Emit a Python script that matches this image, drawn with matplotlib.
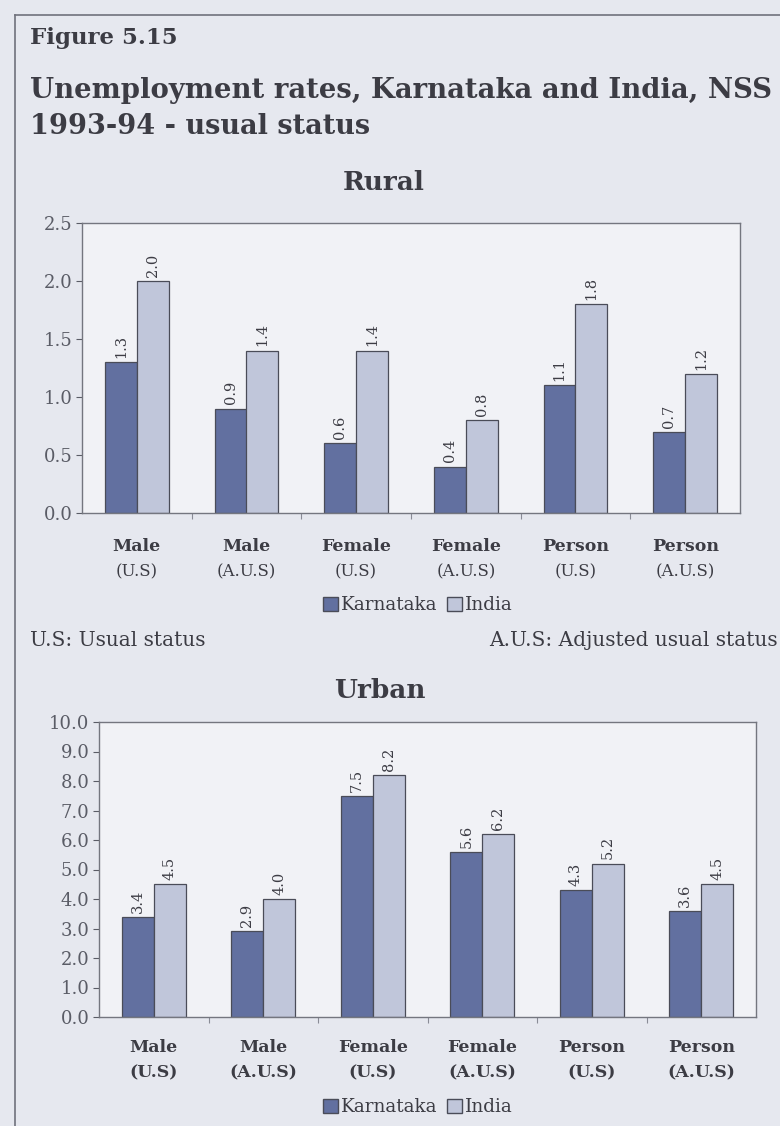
import matplotlib
matplotlib.use("Agg")
import matplotlib.pyplot as plt
from matplotlib.patches import Patch
from matplotlib.lines import Line2D

# Data
categories = ["Male", "Male", "Female", "Female", "Person", "Person"]
statuses = ["(U.S)", "(A.U.S)", "(U.S)", "(A.U.S)", "(U.S)", "(A.U.S)"]
rural_karnataka = [1.3, 0.9, 0.6, 0.4, 1.1, 0.7]
rural_india = [2.0, 1.4, 1.4, 0.8, 1.8, 1.2]
urban_karnataka = [3.4, 2.9, 7.5, 5.6, 4.3, 3.6]
urban_india = [4.5, 4.0, 8.2, 6.2, 5.2, 4.5]
rural_ticks = [0.0, 0.5, 1.0, 1.5, 2.0, 2.5]
urban_ticks = [0.0, 1.0, 2.0, 3.0, 4.0, 5.0, 6.0, 7.0, 8.0, 9.0, 10.0]

W, H = 780, 1126
PAGE = "#e6e8ef"
PLOT_BG = "#f1f2f6"
K_COLOR = "#6270a0"
I_COLOR = "#c0c6da"
EDGE = "#4a4c58"
TEXT = "#3c3c44"
SERIF = ["DejaVu Serif"]

plt.rcParams["font.family"] = SERIF

fig = plt.figure(figsize=(W / 100, H / 100), dpi=100)
fig.patch.set_facecolor(PAGE)


def px_axes(left, top, right, bottom):
    return fig.add_axes([left / W, 1 - bottom / H, (right - left) / W, (bottom - top) / H])


def fy(y):
    return 1 - y / H


def fx(x):
    return x / W


# page frame
fig.add_artist(Line2D([fx(15), fx(780)], [fy(15), fy(15)], color="#70727c", lw=1.2))
fig.add_artist(Line2D([fx(15), fx(15)], [fy(15), fy(1126)], color="#70727c", lw=1.2))

fig.text(fx(30), fy(38), "Figure 5.15", fontsize=16.5, fontweight="bold",
         color=TEXT, va="center", ha="left")
fig.text(fx(30), fy(91), "Unemployment rates, Karnataka and India, NSS",
         fontsize=19.8, fontweight="bold", color=TEXT, va="center", ha="left")
fig.text(fx(30), fy(126), "1993-94 - usual status",
         fontsize=19.5, fontweight="bold", color=TEXT, va="center", ha="left")


def draw_panel(ax, kvals, ivals, ticks, ymax, fmt):
    ax.set_facecolor(PLOT_BG)
    x = list(range(len(categories)))
    w = 0.29
    kx = [i - w / 2 for i in x]
    ix = [i + w / 2 for i in x]
    ax.bar(kx, kvals, width=w, color=K_COLOR, edgecolor=EDGE, linewidth=0.9, zorder=2)
    ax.bar(ix, ivals, width=w, color=I_COLOR, edgecolor=EDGE, linewidth=0.9, zorder=2)
    for xs, vals in ((kx, kvals), (ix, ivals)):
        for xi, v in zip(xs, vals):
            ax.annotate(f"{v:.1f}", (xi, v), xytext=(0, 3), textcoords="offset points",
                        rotation=90, ha="center", va="bottom", fontsize=10.5,
                        color=TEXT)
    ax.set_xlim(-0.5, len(categories) - 0.5)
    ax.set_ylim(0, ymax)
    ax.set_yticks(ticks)
    ax.set_yticklabels([fmt.format(t) for t in ticks])
    ax.set_xticks([i + 0.5 for i in range(len(categories) - 1)])
    ax.set_xticklabels([])
    ax.tick_params(axis="y", labelsize=13, colors="#5a5c66", length=4, width=0.8,
                   direction="out", pad=3)
    ax.tick_params(axis="x", length=4, width=0.8, direction="out", colors="#8a8c96")
    for s in ax.spines.values():
        s.set_color("#74767f")
        s.set_linewidth(1.0)


leg_handles = [Patch(facecolor=K_COLOR, edgecolor=EDGE, label="Karnataka"),
               Patch(facecolor=I_COLOR, edgecolor=EDGE, label="India")]

# Rural panel
fig.text(fx(384), fy(183), "Rural", fontsize=19, fontweight="bold", color=TEXT,
         ha="center", va="center")
ax1 = px_axes(82, 223, 740, 513)
draw_panel(ax1, rural_karnataka, rural_india, rural_ticks, 2.5, "{:.1f}")
for i, (c, s) in enumerate(zip(categories, statuses)):
    xf = (82 + (i + 0.5) * (740 - 82) / 6) / W
    fig.text(xf, fy(546), c, fontsize=12.5, fontweight="bold", color=TEXT,
             ha="center", va="center")
    fig.text(xf, fy(572), s, fontsize=12, color=TEXT, ha="center", va="center")

fig.legend(handles=leg_handles, loc="center", bbox_to_anchor=(fx(418), fy(605)),
           ncol=2, frameon=False, fontsize=13.2, handlelength=0.8, handleheight=0.8,
           handletextpad=0.2, columnspacing=0.5, labelcolor=TEXT)

fig.text(fx(30), fy(641), "U.S: Usual status", fontsize=14.5, color=TEXT,
         ha="left", va="center")
fig.text(fx(778), fy(641), "A.U.S: Adjusted usual status", fontsize=14.5, color=TEXT,
         ha="right", va="center")

# Urban panel
fig.text(fx(380), fy(690), "Urban", fontsize=19, fontweight="bold", color=TEXT,
         ha="center", va="center")
ax2 = px_axes(99, 722, 756, 1017)
draw_panel(ax2, urban_karnataka, urban_india, urban_ticks, 10.0, "{:.1f}")
for i, (c, s) in enumerate(zip(categories, statuses)):
    xf = (99 + (i + 0.5) * (756 - 99) / 6) / W
    fig.text(xf, fy(1047), c, fontsize=12.5, fontweight="bold", color=TEXT,
             ha="center", va="center")
    fig.text(xf, fy(1073), s, fontsize=12.5, fontweight="bold", color=TEXT,
             ha="center", va="center")

fig.legend(handles=leg_handles, loc="center", bbox_to_anchor=(fx(418), fy(1107)),
           ncol=2, frameon=False, fontsize=13.2, handlelength=0.8, handleheight=0.8,
           handletextpad=0.2, columnspacing=0.5, labelcolor=TEXT)

fig.savefig("out.png", dpi=100, facecolor=fig.get_facecolor())
